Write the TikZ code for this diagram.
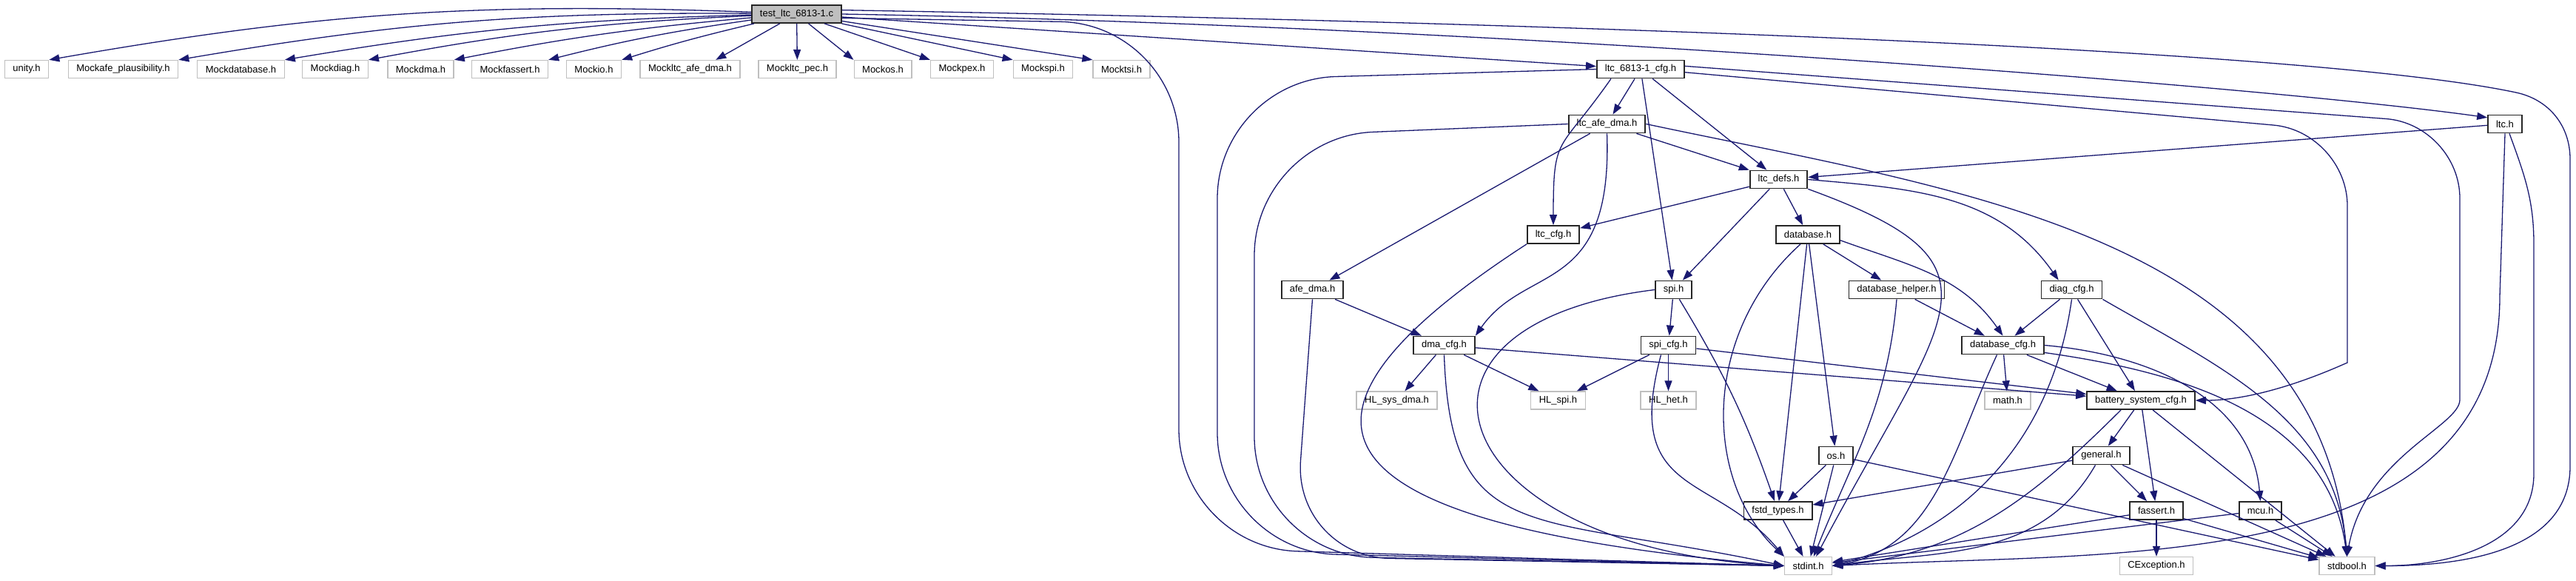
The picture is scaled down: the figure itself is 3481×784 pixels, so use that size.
\documentclass[tikz,border=0pt]{standalone}
\usepackage{fontspec}
\setmainfont{Liberation Sans}
\usetikzlibrary{arrows.meta}

\definecolor{edgeblue}{HTML}{191970}
\definecolor{extgray}{HTML}{BFBFBF}

\begin{document}
\begin{tikzpicture}[
      x=0.01cm, y=-0.01cm,
      box/.style={minimum height=0.24cm, inner xsep=0.11cm, inner ysep=0pt,
                  font=\fontsize{3.7}{4.4}\selectfont},
      hdr/.style={box, draw=black!85, line width=0.018cm, fill=white},
      ext/.style={box, draw=extgray, line width=0.013cm, fill=white},
      root/.style={box, draw=black!85, line width=0.018cm, fill=extgray},
      dep/.style={-{Triangle[length=0.14cm, width=0.1cm]}, draw=edgeblue,
                  line width=0.013cm},
      route/.style={dep, rounded corners=1.6cm}]

    \useasboundingbox (0,0) rectangle (3481,784);

    % ============================================
    % test file and its mocks
    % ============================================
    \node[root] (T) at (1076.5,19) {test\_ltc\_6813-1.c};

    \foreach \nm/\px/\txt in {unity/36/unity.h,
        mafe/166.5/Mockafe\_plausibility.h, mdb/325.5/Mockdatabase.h,
        mdiag/453/Mockdiag.h, mdma/568.5/Mockdma.h, mfassert/689/Mockfassert.h,
        mio/802.5/Mockio.h, mltcafe/932.5/Mockltc\_afe\_dma.h,
        mltcpec/1077.5/Mockltc\_pec.h, mos/1193/Mockos.h, mpex/1300/Mockpex.h,
        mspi/1409.5/Mockspi.h, mtsi/1515.5/Mocktsi.h} {
        \node[ext] (\nm) at (\px,93.5) {\txt};
    }

    % ============================================
    % headers
    % ============================================
    \node[hdr] (C) at (2217,93.5) {ltc\_6813-1\_cfg.h};
    \node[hdr] (A) at (2171.5,167.5) {ltc\_afe\_dma.h};
    \node[hdr] (ltch) at (3385,167.5) {ltc.h};
    \node[hdr] (defs) at (2403.5,242.5) {ltc\_defs.h};
    \node[hdr] (ltccfg) at (2099,317) {ltc\_cfg.h};
    \node[hdr] (db) at (2443,317) {database.h};
    \node[hdr] (afedma) at (1773.5,391.5) {afe\_dma.h};
    \node[hdr] (spi) at (2261.5,391.5) {spi.h};
    \node[hdr] (dbh) at (2563,391.5) {database\_helper.h};
    \node[hdr] (diag) at (2799.5,391.5) {diag\_cfg.h};
    \node[hdr] (dmacfg) at (1951.5,466.5) {dma\_cfg.h};
    \node[hdr] (spicfg) at (2254.5,466.5) {spi\_cfg.h};
    \node[hdr] (dbcfg) at (2706.5,466.5) {database\_cfg.h};
    \node[ext] (hlsys) at (1887.5,541) {HL\_sys\_dma.h};
    \node[ext] (hlspi) at (2105.5,541) {HL\_spi.h};
    \node[ext] (hlhet) at (2254.5,541) {HL\_het.h};
    \node[ext] (math) at (2713,541) {math.h};
    \node[hdr] (bsc) at (2893,541) {battery\_system\_cfg.h};
    \node[hdr] (os) at (2481,615.5) {os.h};
    \node[hdr] (gen) at (2839.5,615.5) {general.h};
    \node[hdr] (fstd) at (2402.5,690) {fstd\_types.h};
    \node[hdr] (fass) at (2914,690) {fassert.h};
    \node[hdr] (mcu) at (3054.5,690) {mcu.h};
    \node[ext] (stdint) at (2443.5,764.5) {stdint.h};
    \node[ext] (cexc) at (2914,764.5) {CException.h};
    \node[ext] (stdbool) at (3171.5,764.5) {stdbool.h};

    % bends of the long edges
    \coordinate (rTi1) at (1593,32);
    \coordinate (rTi2) at (1593,740);
    \coordinate (rCi1) at (1645,108);
    \coordinate (rCi2) at (1645,745);
    \coordinate (rAi1) at (1695,185);
    \coordinate (rAi2) at (1695,750);
    \coordinate (rFi) at (1748,752);
    \coordinate (rTb0) at (3400,125);
    \coordinate (rTb1) at (3473,215);
    \coordinate (rTb2) at (3473,630);
    \coordinate (rCs1) at (3172,178);
    \coordinate (rCs2) at (3172,390);
    \coordinate (rCb1) at (3324,168);
    \coordinate (rCb2) at (3324,440);
    \coordinate (rLi) at (3378,400);
    \coordinate (rLb1) at (3424,330);
    \coordinate (rLb2) at (3424,640);

    % ============================================
    % edges
    % ============================================
    \foreach \m/\b in {unity/6, mafe/5, mdb/4, mdiag/4, mdma/3, mfassert/3, mio/2}
        \draw[dep] (T) to[bend right=\b] (\m.north east);
    \draw[dep] (T) -- (mltcafe.20);
    \draw[dep] (T) -- (mltcpec);
    \foreach \m in {mos, mpex, mspi, mtsi}
        \draw[dep] (T) -- (\m.north west);

    \draw[dep] (T) -- (C);
    \draw[dep] (T.east) to[out=-1, in=172, out distance=8.7cm, in distance=3cm] (ltch.160);
    \draw[route] (T.-5) -- (rTi1) -- (rTi2) -- (stdint.west);
    \draw[dep] (T.5) to[out=-1, in=168, out distance=8.7cm, in distance=3cm] (rTb0)
        to[out=-12, in=90] (rTb1) -- (rTb2) to[out=-90, in=0] (stdbool.east);

    % ltc_6813-1_cfg.h
    \draw[dep] (C) -- (A);
    \draw[dep] (C) -- (defs);
    \draw[dep] ([xshift=-0.4cm]C.south) to[out=-125, in=90, looseness=1.5] (ltccfg.north);
    \draw[dep] (C) -- (spi);
    \draw[route] (C.west) -- (rCi1) -- (rCi2) -- (stdint.west);
    \draw[dep, rounded corners=1cm] (C.-4) -- (rCs1) -- (rCs2) to[out=-90, in=0] (bsc.east);
    \draw[dep, rounded corners=1cm] (C.4) -- (rCb1) -- (rCb2) to[out=-90, in=80] (stdbool.north);

    % ltc_afe_dma.h
    \draw[dep] (A) -- (defs);
    \draw[dep] (A) -- (afedma);
    \draw[dep] (A.south) to[out=-88, in=55, out distance=2.2cm, in distance=1.2cm] (dmacfg.north east);
    \draw[route] (A.west) -- (rAi1) -- (rAi2) -- (stdint.west);
    \draw[dep] (A.east) to[out=-12, in=95] (stdbool.north);

    % ltc.h
    \draw[dep] (ltch) -- (defs);
    \draw[dep] (ltch.south) -- (rLi) to[out=-90, in=3] (stdint.east);
    \draw[dep] ([xshift=0.06cm]ltch.south) to[out=-70, in=90] (rLb1) -- (rLb2)
        to[out=-90, in=0] (stdbool.east);

    % ltc_defs.h
    \draw[dep] (defs) -- (ltccfg);
    \draw[dep] (defs) -- (spi);
    \draw[dep] (defs) -- (db);
    \draw[dep] (defs.south east) to[out=-20, in=62, out distance=3cm, in distance=3.8cm] (stdint.50);
    \draw[dep] (defs.east) to[out=-5, in=125] (diag.144);

    % database.h
    \draw[dep] (db) -- (dbh);
    \draw[dep] (db.-10) to[out=-20, in=125] (dbcfg.north);
    \draw[dep] (db) -- (os);
    \draw[dep] (db) -- (fstd);
    \draw[dep] ([xshift=-0.1cm]db.south) to[out=-138, in=137, out distance=1.8cm, in distance=1.5cm] (stdint.north west);

    \draw[dep] (dbh) -- (dbcfg);
    \draw[dep] (dbh.south) to[out=-95, in=68] (stdint.60);

    % diag_cfg.h
    \draw[dep] (diag) -- (dbcfg);
    \draw[dep] (diag) -- (bsc);
    \draw[dep] (diag.south) to[out=-98, in=15] (stdint.east);
    \draw[dep] (diag.south east) to[out=-30, in=95] (stdbool.north);

    % spi.h, ltc_cfg.h, afe_dma.h
    \draw[dep] (spi) -- (spicfg);
    \draw[dep] (spi) to[bend left=6] (fstd);
    \draw[dep] (spi.west) to[out=187, in=177, out distance=3.9cm, in distance=4.6cm] (stdint.west);
    \draw[dep] (ltccfg.south west) to[out=-147, in=175, out distance=4.3cm, in distance=6.6cm] (stdint.west);
    \draw[dep] (afedma) -- (dmacfg);
    \draw[dep, rounded corners=1.3cm] (afedma.south) -- (rFi) -- (stdint.west);

    % spi_cfg.h and dma_cfg.h
    \draw[dep] (spicfg) -- (hlspi);
    \draw[dep] (spicfg) -- (hlhet);
    \draw[dep] (spicfg) -- (bsc);
    \draw[dep] ([xshift=-0.1cm]spicfg.south) to[out=-105, in=130, out distance=2cm, in distance=1.5cm] (stdint.north west);
    \draw[dep] (dmacfg) -- (hlsys);
    \draw[dep] (dmacfg) -- (hlspi);
    \draw[dep] (dmacfg) -- (bsc);
    \draw[dep] (dmacfg.south) to[out=-88, in=168, out distance=2.6cm, in distance=3.5cm] (stdint.west);

    % database_cfg.h
    \draw[dep] (dbcfg) -- (math);
    \draw[dep] (dbcfg) -- (bsc);
    \draw[dep] ([xshift=-0.08cm]dbcfg.south) to[out=-115, in=10] (stdint.east);
    \draw[dep] (dbcfg.east) to[out=-5, in=95] (mcu.north);
    \draw[dep] (dbcfg.-10) to[out=-8, in=98] (stdbool.north);

    % battery_system_cfg.h and below
    \draw[dep] (bsc) -- (gen);
    \draw[dep] (bsc) -- (fass);
    \draw[dep] ([xshift=-0.27cm]bsc.south) to[out=-135, in=5] (stdint.east);
    \draw[dep] (bsc) -- (stdbool);

    \draw[dep] (gen) -- (fstd);
    \draw[dep] (gen) -- (fass);
    \draw[dep] ([xshift=-0.08cm]gen.south) to[out=-120, in=8] (stdint.east);
    \draw[dep] (gen) -- (stdbool);

    \draw[dep] (os) -- (fstd);
    \draw[dep] (os) -- (stdint);
    \draw[dep] (os) -- (stdbool);
    \draw[dep] (fstd) -- (stdint);

    \draw[dep] (fass) -- (cexc);
    \draw[dep] (fass) -- (stdint);
    \draw[dep] (fass) -- (stdbool);
    \draw[dep] (mcu) -- (stdint);
    \draw[dep] (mcu) -- (stdbool);

\end{tikzpicture}
\end{document}
